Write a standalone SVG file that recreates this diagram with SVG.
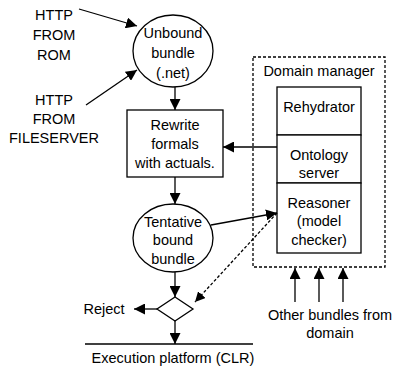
<svg xmlns="http://www.w3.org/2000/svg" width="396" height="371" viewBox="0 0 396 371">
<defs>
<marker id="ah" viewBox="0 0 10 10" refX="10" refY="5" markerWidth="11" markerHeight="11" markerUnits="userSpaceOnUse" orient="auto">
<path d="M0,0 L10,5 L0,10 z" fill="#000"/>
</marker>
<marker id="ah2" viewBox="0 0 10 10" refX="10" refY="5" markerWidth="10" markerHeight="10" markerUnits="userSpaceOnUse" orient="auto">
<path d="M0,0 L10,5 L0,10 z" fill="#000"/>
</marker>
</defs>
<style>
text{font-family:"Liberation Sans",Arial,sans-serif;font-size:14.5px;fill:#000;text-anchor:middle}
.s{fill:#fff;stroke:#000;stroke-width:1.3}
.c{fill:none;stroke:#000;stroke-width:1.3}
.d{fill:none;stroke:#000;stroke-width:1.3;stroke-dasharray:3,2}
</style>
<rect width="396" height="371" fill="#fff"/>
<g id="domain-manager">
<rect x="253" y="57" width="132" height="210" class="d"/>
<text x="319" y="76">Domain manager</text>
</g>
<g id="unbound">
<ellipse cx="173" cy="51" rx="40" ry="36" class="s"/>
<text x="173" y="38">Unbound</text>
<text x="173" y="58">bundle</text>
<text x="173" y="78">(.net)</text>
</g>
<g id="rewrite">
<rect x="127" y="110" width="96" height="67" class="s"/>
<text x="175" y="130">Rewrite</text>
<text x="175" y="149">formals</text>
<text x="175" y="168">with actuals.</text>
</g>
<g id="tentative">
<ellipse cx="173" cy="238" rx="40" ry="34" class="s"/>
<text x="173" y="227">Tentative</text>
<text x="173" y="245">bound</text>
<text x="173" y="264">bundle</text>
</g>
<g id="rehydrator">
<rect x="277" y="87" width="84" height="48" class="s"/>
<text x="319" y="112">Rehydrator</text>
</g>
<g id="ontology">
<rect x="277" y="135" width="84" height="48" class="s"/>
<text x="319" y="160">Ontology</text>
<text x="319" y="178">server</text>
</g>
<g id="reasoner">
<rect x="277" y="183" width="84" height="70" class="s"/>
<text x="319" y="208">Reasoner</text>
<text x="319" y="226">(model</text>
<text x="319" y="245">checker)</text>
</g>
<g id="decision">
<path d="M175,297 L193,309 L175,321 L157,309 Z" class="s"/>
</g>
<g id="labels">
<text x="54" y="20">HTTP</text>
<text x="54" y="40">FROM</text>
<text x="54" y="60">ROM</text>
<text x="54" y="105">HTTP</text>
<text x="54" y="124">FROM</text>
<text x="54" y="143">FILESERVER</text>
<text x="104" y="314">Reject</text>
<text x="330" y="320">Other bundles from</text>
<text x="330" y="338">domain</text>
<text x="173" y="363">Execution platform (CLR)</text>
</g>
<g id="platform">
<line x1="85" y1="344" x2="253" y2="344" class="c"/>
</g>
<g id="connectors">
<line x1="79" y1="9" x2="137" y2="26" class="c" marker-end="url(#ah)"/>
<line x1="86" y1="105" x2="137" y2="70" class="c" marker-end="url(#ah)"/>
<line x1="175" y1="87" x2="175" y2="110" class="c" marker-end="url(#ah)"/>
<line x1="175" y1="177" x2="175" y2="204" class="c" marker-end="url(#ah)"/>
<line x1="277" y1="147" x2="223" y2="147" class="c" marker-end="url(#ah)"/>
<line x1="211" y1="225" x2="277" y2="213" class="c" marker-end="url(#ah)"/>
<line x1="175" y1="272" x2="175" y2="297" class="c" marker-end="url(#ah)"/>
<line x1="157" y1="309" x2="134" y2="309" class="c" marker-end="url(#ah)"/>
<line x1="175" y1="321" x2="175" y2="344" class="c" marker-end="url(#ah)"/>
<line x1="277" y1="213" x2="195" y2="302" class="d" marker-end="url(#ah2)"/>
<line x1="295" y1="302" x2="295" y2="268" class="c" marker-end="url(#ah)"/>
<line x1="319" y1="302" x2="319" y2="268" class="c" marker-end="url(#ah)"/>
<line x1="343" y1="302" x2="343" y2="268" class="c" marker-end="url(#ah)"/>
</g>
</svg>
